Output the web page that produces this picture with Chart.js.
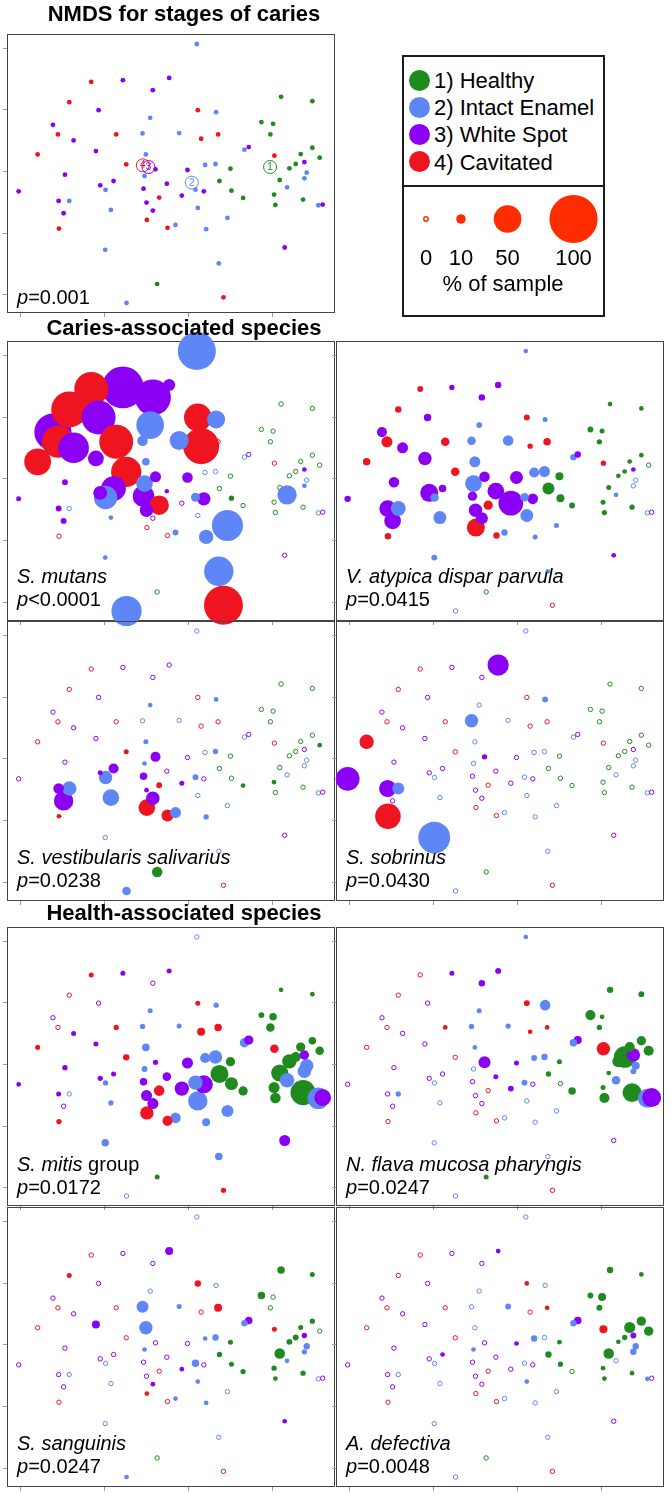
<!DOCTYPE html>
<html>
<head>
<meta charset="utf-8">
<title>NMDS for stages of caries</title>
<script src="https://cdn.jsdelivr.net/npm/chart.js@4.4.1/dist/chart.umd.min.js"></script>
<style>
html,body{margin:0;padding:0;background:#fff;}
body{position:relative;width:671px;height:1495px;overflow:hidden;font-family:"Liberation Sans",Arial,Helvetica,sans-serif;color:#000;}
canvas{position:absolute;}
.head{position:absolute;left:0;width:368px;text-align:center;font-weight:bold;font-size:22px;line-height:26px;z-index:5;white-space:nowrap;}
.lab{position:absolute;font-size:20px;line-height:23px;z-index:5;white-space:nowrap;}
#legend{position:absolute;left:402px;top:55px;width:203px;height:262px;border:2px solid #1c1c1c;box-sizing:border-box;z-index:1;background:#fff;}
#legdiv{position:absolute;left:402px;top:185px;width:203px;height:2px;background:#1c1c1c;z-index:2;}
.leg{position:absolute;font-size:22px;line-height:27px;white-space:nowrap;z-index:5;}
.sw{position:absolute;width:21px;height:21px;border-radius:50%;z-index:5;}
.cl{position:absolute;font-size:10px;line-height:12px;width:14px;text-align:center;z-index:6;}
.szl{position:absolute;font-size:22px;line-height:26px;white-space:nowrap;z-index:5;transform:translateX(-50%);}
</style>
</head>
<body>
<div class="head" style="top:1px">NMDS for stages of caries</div>
<div class="head" style="top:315px">Caries-associated species</div>
<div class="head" style="top:900px">Health-associated species</div>
<div id="legend"></div><div id="legdiv"></div>
<script>
// ---------------- data ----------------
const stageLabels = ['1) Healthy', '2) Intact Enamel', '3) White Spot', '4) Cavitated'];
const stageColors = ['#1f8b1f', '#5f86f6', '#8b00f4', '#ef1520'];

// NMDS scores of the 84 samples (axis 1, axis 2) and caries stage (1-4)
const nmds1 = [590,273,368,507,458,207,295,843,937,593,
648,450,158,173,220,348,427,537,603,654,
784,819,811,112,287,437,378,733,746,823,
902,937,959,887,913,868,920,913,839,861,
194,466,433,562,615,646,691,658,55,340,
300,316,430,500,586,611,694,545,477,729,
822,909,826,955,968,175,207,439,190,332,
458,593,440,502,526,176,618,682,315,854,
656,471,379,670];
const nmds2 = [48,162,157,150,187,223,247,207,220,247,
253,270,291,320,338,320,317,316,333,320,
283,288,320,380,370,380,410,366,358,384,
379,360,390,409,403,422,435,452,457,479,
441,425,445,427,412,409,423,460,491,460,
473,487,483,468,486,491,489,504,510,511,
501,516,532,533,531,520,520,525,557,547,
549,541,577,601,592,603,605,571,667,660,
708,770,827,810];
const stage = [2,4,3,3,3,4,3,1,1,4,
2,2,3,4,3,4,2,2,4,4,
1,1,1,4,3,2,4,2,3,4,
1,1,1,1,3,1,2,2,1,2,
3,3,2,3,2,2,1,1,3,3,
3,2,3,3,2,3,1,3,4,1,
1,1,1,2,3,3,2,3,3,2,
3,2,4,4,2,4,2,2,2,3,
2,1,2,4];

// group centroids
const centroidStage = [1, 2, 3, 4];
const centroidX = [810, 575, 445, 428];
const centroidY = [418, 465, 418, 413];

// % of sample for each species
const sMutans = [75,65,84,15,70,70,65,0,0,50,
28,50,73,60,57,65,12,30,70,0,
0,0,0,48,23,6,56,0,0,0,
0,0,0,0,1,0,0,1,0,31,
3,13,25,12,0,0,0,0,1.5,43,
19,40,36,0.5,9,18,2,0,31,0,
0,0,0,0,0,3,0,18,3,1,
0,0,0,0,3,0,20,58,1,0,
54,0,56,77];
const vAtypica = [1,3,2,4,4,4,6,1,1,3,
1.5,3,11,13,13,8,8,12,2,6,
3,1.5,2,6,18,13,8,4,4,2,
1,1,0,1,1,1,0,0,1.5,1,
12,12,25,17,11,13,7,15,4,6,
28,8,9.5,25,8,12,7,43,9.5,3,
1.5,2,2,0,0,25,21,18,25,17,
15,17,28,4,4,4,1.5,1.5,3,1,
1,0,0,0];
const sVestibularis = [0,0,0,0,0,0,0,0,0,0,
1,1,0,0,0,0,0,0,0,0,
0,0,0,0,0,1.5,1.5,0,0,0,
0,0,1,0,0,0,0,0,0,0,
0,11,1,0,0,2,0,0,0,11,
1.5,18,6,0,3,0,0,1.5,3,1,
1,0,0,0,0,12,20,1,31,25,
18,0,25,15,13,1,2,0,0,0,
0,12,8,0];
const sSobrinus = [0,0,0,35,0,0,0,0,0,0,
3,0,0,0,0,0,18,0,0,0,
0,0,0,20,0,0,0,0,0,0,
0,0,0,0,0,0,0,0,0,0,
0,2,0,0,0,0,0,0,41,0,
0,0,0,0,0,0,0,0,0,0,
0,0,0,0,0,26,15,0,0,0,
0,0,0,0,0,45,0,0,60,0,
0,0,0,0];
const sMitis = [0,1.5,1.5,1.5,0,0,0,1,1,1.5,
2,1.5,0,0,1.5,2,2,1.5,7,6,
3,6,8,1.5,1.5,6,4,9.5,9.5,8,
9.5,6,8,11,9.5,20,18,18,26,20,
2,2,3,13,11,18,9.5,28,1,1.5,
2,2,6,8,20,28,17,20,12,9.5,
13,44,12,36,25,1.5,0,13,0,2,
13,31,18,11,12,2,7,15,6,13,
6,1.5,0,2];
const nFlava = [1,0,1.5,3,4,0,0,4,3,3,
12,1.5,0,0,0,1,2,2,1,1,
11,1,2,0,0,1,0,6,7,18,
11,9.5,11,36,18,15,7,3,1,8,
0,15,0,1.5,3,4,1.5,2,0,0,
0,0,0,1.5,3,0,0,3,0,6,
1.5,30,11,30,30,0,2,0,0,0,
0,0,0,0,0,0,0,0,0,0,
0,1.5,0,0];
const sSanguinis = [0,0,0,7,0,1.5,0,6,1.5,4,
0,0,0,0,0,0,15,1.5,0,7,
6,0,0,0,7,18,0,4,6,1.5,
1.5,2,0,3,2,3,4,2,12,1,
0,0,1,0,1,4,1.5,2,0,0,
0,0,0,0,6,0,1.5,1,0,2,
2,2,1,0,0,0,0,0,0,0,
1,1,1,0,1,0,1,0,0,1,
0,0,1,0];
const aDefectiva = [0,0,0,1,0,0,0,4,1,1,
0,0,0,0,0,0,0,3,0,1,
3,7,3,0,0,0,0,4,6,7,
13,9.5,9.5,2,3,1,4,4,12,0,
0,0,1,1,4,0,1,4,0,1,
0,0,0,0,0,0,2,0,0,0,
1,1,1,1,0,0,0,0,0,0,
0,1,0,0,0,0,0,0,0,0,
0,0,0,0];

const speciesValues = [sMutans, vAtypica, sVestibularis, sSobrinus, sMitis, nFlava, sSanguinis, aDefectiva];
const speciesNames = ['<i>S. mutans</i>', '<i>V. atypica dispar parvula</i>', '<i>S. vestibularis salivarius</i>', '<i>S. sobrinus</i>',
  '<i>S. mitis</i> group', '<i>N. flava mucosa pharyngis</i>', '<i>S. sanguinis</i>', '<i>A. defectiva</i>'];
const pValues = ['&lt;0.0001', '=0.0415', '=0.0238', '=0.0430', '=0.0172', '=0.0247', '=0.0247', '=0.0048'];
const overallP = '=0.001';

const sizeLegendPct = [0, 10, 50, 100];

const xTicks = [60, 312, 564, 816];
const yTicks = [60, 245, 430, 615, 800];
const X_RANGE = [20, 1005];
const Y_RANGE = [18, 857];

// ---------------- layout / style ----------------
const PAD = 40;
const COLS = [{l: 7, w: 328}, {l: 336, w: 328}];
const ROWS = [{t: 341, h: 280}, {t: 621, h: 280}, {t: 927, h: 279}, {t: 1207, h: 280}];
const LABEL_TOPS = [565, 846, 1152.5, 1432];
const LEGEND_RED = '#ff2c00';

function rad(p) { return p > 0 ? 2 + 0.35 * Math.pow(p, 0.9) : 2.2; }

const framePlugin = {
  id: 'frame',
  beforeDatasetsDraw(chart) {
    const {ctx, chartArea: a, scales: {x, y}} = chart;
    ctx.save();
    ctx.strokeStyle = '#9a9a9a';
    ctx.lineWidth = 1;
    ctx.beginPath();
    xTicks.forEach(v => { const px = Math.round(x.getPixelForValue(v)) + 0.5; ctx.moveTo(px, a.bottom); ctx.lineTo(px, a.bottom + 4); });
    yTicks.forEach(v => { const py = Math.round(y.getPixelForValue(v)) + 0.5; ctx.moveTo(a.left, py); ctx.lineTo(a.left - 4, py); });
    ctx.stroke();
    ctx.strokeStyle = '#444';
    ctx.strokeRect(a.left + 0.5, a.top + 0.5, a.right - a.left - 1, a.bottom - a.top - 1);
    ctx.restore();
  }
};

function makeCanvas(left, top, w, h, pad) {
  const c = document.createElement('canvas');
  c.width = w + 2 * pad; c.height = h + 2 * pad;
  c.style.left = (left - pad) + 'px'; c.style.top = (top - pad) + 'px';
  c.style.width = c.width + 'px'; c.style.height = c.height + 'px';
  document.body.appendChild(c);
  return c;
}

function panelChart(canvas, datasets, withFrame) {
  return new Chart(canvas, {
    type: 'scatter',
    data: {datasets},
    options: {
      responsive: false, animation: false, devicePixelRatio: 1, events: [],
      layout: {padding: PAD, autoPadding: false},
      plugins: {legend: {display: false}, tooltip: {enabled: false}},
      scales: {
        x: {type: 'linear', display: false, min: X_RANGE[0], max: X_RANGE[1]},
        y: {type: 'linear', display: false, min: Y_RANGE[0], max: Y_RANGE[1], reverse: true}
      }
    },
    plugins: withFrame ? [framePlugin] : []
  });
}

function addLabel(left, top, html) {
  const d = document.createElement('div');
  d.className = 'lab';
  d.style.left = left + 'px'; d.style.top = top + 'px';
  d.innerHTML = html;
  document.body.appendChild(d);
}

// ---------------- panel 1: NMDS ----------------
(function () {
  const f = {l: 7, t: 34, w: 328, h: 279};
  const cv = makeCanvas(f.l, f.t, f.w, f.h, PAD);
  const idx = nmds1.map((_, i) => i);
  const ds = {
    data: idx.map(i => ({x: nmds1[i], y: nmds2[i]})),
    pointRadius: 2.4, pointBorderWidth: 0,
    pointBackgroundColor: idx.map(i => stageColors[stage[i] - 1]),
    clip: false
  };
  const cen = {
    data: centroidX.map((x, i) => ({x, y: centroidY[i]})),
    pointRadius: 6.5, pointBorderWidth: 1,
    pointBackgroundColor: 'rgba(255,255,255,0)',
    pointBorderColor: centroidStage.map(s => stageColors[s - 1]),
    clip: false
  };
  const ch = panelChart(cv, [ds, cen], true);
  centroidX.forEach((x, i) => {
    const s = document.createElement('span');
    s.className = 'cl';
    const px = f.l - PAD + ch.scales.x.getPixelForValue(x);
    const py = f.t - PAD + ch.scales.y.getPixelForValue(centroidY[i]);
    s.style.left = (px - 7) + 'px'; s.style.top = (py - 6) + 'px';
    s.style.color = stageColors[centroidStage[i] - 1];
    s.textContent = String(centroidStage[i]);
    document.body.appendChild(s);
  });
  addLabel(17, 286, '<i>p</i>' + overallP);
})();

// ---------------- species panels ----------------
speciesValues.forEach((vals, k) => {
  const col = COLS[k % 2], row = ROWS[Math.floor(k / 2)];
  const cv = makeCanvas(col.l, row.t, col.w, row.h, PAD);
  const order = vals.map((_, i) => i).sort((a, b) =>
    ((vals[a] > 0) - (vals[b] > 0)) || (rad(vals[b]) - rad(vals[a])));
  const ds = {
    data: order.map(i => ({x: nmds1[i], y: nmds2[i]})),
    pointRadius: order.map(i => rad(vals[i])),
    pointBackgroundColor: order.map(i => vals[i] > 0 ? stageColors[stage[i] - 1] : 'rgba(255,255,255,0)'),
    pointBorderColor: order.map(i => stageColors[stage[i] - 1]),
    pointBorderWidth: order.map(i => vals[i] > 0 ? 0 : 1),
    clip: false
  };
  panelChart(cv, [ds], true);
  addLabel(col.l + 10, LABEL_TOPS[Math.floor(k / 2)], speciesNames[k] + '<br><i>p</i>' + pValues[k]);
});

// ---------------- legend ----------------
stageLabels.forEach((t, i) => {
  const cy = 80 + i * 27.2;
  const sw = document.createElement('div');
  sw.className = 'sw';
  sw.style.left = '409px'; sw.style.top = (cy - 10.5) + 'px';
  sw.style.background = stageColors[i];
  document.body.appendChild(sw);
  const d = document.createElement('div');
  d.className = 'leg';
  d.style.left = '434px'; d.style.top = (cy - 13) + 'px';
  d.textContent = t;
  document.body.appendChild(d);
});

(function () {
  const L = 403, T = 187, W = 202, H = 64;
  const c = makeCanvas(L, T, W, H, 0);
  c.style.zIndex = 4;
  const GAP = 28;
  const xs = [];
  sizeLegendPct.forEach((p, i) => {
    xs.push(i === 0 ? 23 : xs[i - 1] + rad(sizeLegendPct[i - 1]) + rad(p) + GAP);
  });
  const ch = new Chart(c, {
    type: 'scatter',
    data: {datasets: [{
      data: sizeLegendPct.map((p, i) => ({x: xs[i], y: H / 2})),
      pointRadius: sizeLegendPct.map(p => rad(p)),
      pointBackgroundColor: sizeLegendPct.map(p => p > 0 ? LEGEND_RED : '#fff'),
      pointBorderColor: LEGEND_RED,
      pointBorderWidth: sizeLegendPct.map(p => p > 0 ? 0 : 1.5),
      clip: false
    }]},
    options: {
      responsive: false, animation: false, devicePixelRatio: 1, events: [],
      layout: {padding: 0, autoPadding: false},
      plugins: {legend: {display: false}, tooltip: {enabled: false}},
      scales: {x: {type: 'linear', display: false, min: 0, max: W},
               y: {type: 'linear', display: false, min: 0, max: H}}
    }
  });
  sizeLegendPct.forEach((p, i) => {
    const d = document.createElement('div');
    d.className = 'szl';
    d.style.left = (L + ch.scales.x.getPixelForValue(xs[i])) + 'px';
    d.style.top = '245px';
    d.textContent = String(p);
    document.body.appendChild(d);
  });
  const t = document.createElement('div');
  t.className = 'szl';
  t.style.left = '503px'; t.style.top = '271px';
  t.textContent = '% of sample';
  document.body.appendChild(t);
})();
</script>
</body>
</html>
